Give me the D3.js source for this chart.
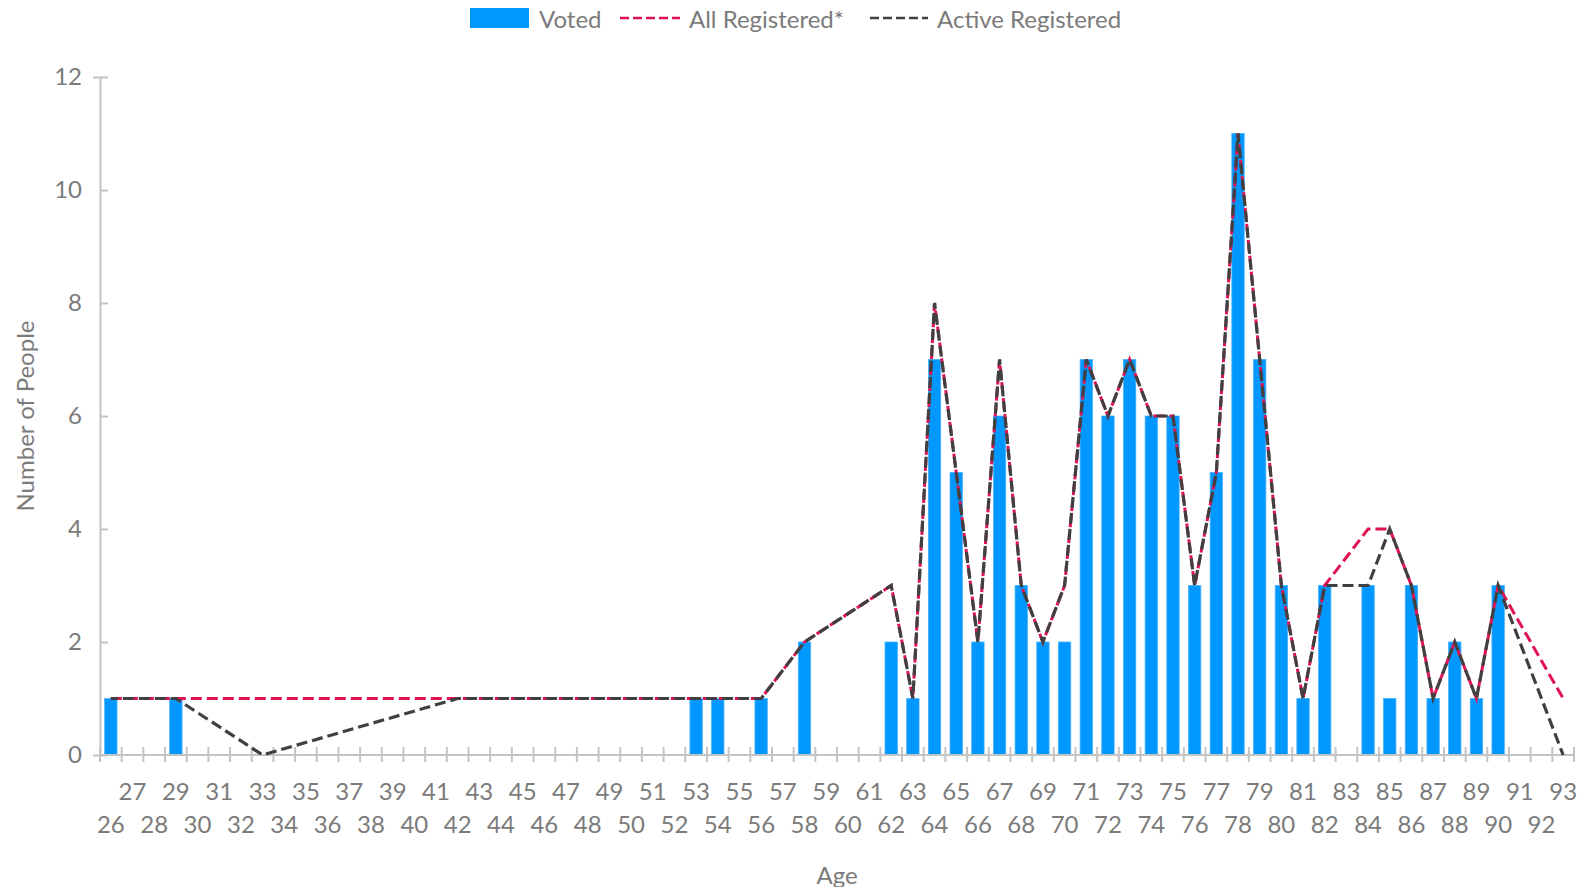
<!DOCTYPE html>
<html>
<head>
<meta charset="utf-8">
<script src="https://cdn.jsdelivr.net/npm/d3@7"></script>
<style>
  body { margin: 0; background: #fff; }
  text { font-family: Lato, "Open Sans", sans-serif; fill: #7b7b7b; }
</style>
</head>
<body>
<svg id="chart" width="1595" height="887"></svg>
<script>
// ages on the category axis
const ages = [26, 27, 28, 29, 30, 31, 32, 33, 34, 35, 36, 37, 38, 39, 40, 41, 42, 43, 44, 45,
  46, 47, 48, 49, 50, 51, 52, 53, 54, 55, 56, 57, 58, 59, 60, 61, 62, 63, 64, 65,
  66, 67, 68, 69, 70, 71, 72, 73, 74, 75, 76, 77, 78, 79, 80, 81, 82, 83, 84, 85,
  86, 87, 88, 89, 90, 91, 92, 93];

// voters per age (only ages that have a bar)
const votedAges   = [26, 29, 53, 54, 56, 58, 62, 63, 64, 65, 66, 67, 68, 69, 70, 71, 72, 73, 74, 75,
  76, 77, 78, 79, 80, 81, 82, 84, 85, 86, 87, 88, 89, 90];
const votedValues = [1, 1, 1, 1, 1, 2, 2, 1, 7, 5, 2, 6, 3, 2, 2, 7, 6, 7, 6, 6,
  3, 5, 11, 7, 3, 1, 3, 3, 1, 3, 1, 2, 1, 3];

// all registered (points are joined across empty ages)
const allRegAges   = [26, 29, 33, 42, 53, 54, 56, 58, 62, 63, 64, 65, 66, 67, 68, 69, 70, 71, 72, 73,
  74, 75, 76, 77, 78, 79, 80, 81, 82, 84, 85, 86, 87, 88, 89, 90, 93];
const allRegValues = [1, 1, 1, 1, 1, 1, 1, 2, 3, 1, 8, 5, 2, 7, 3, 2, 3, 7, 6, 7,
  6, 6, 3, 5, 11, 7, 3, 1, 3, 4, 4, 3, 1, 2, 1, 3, 1];

// active registered
const activeAges   = [26, 29, 33, 42, 53, 54, 56, 58, 62, 63, 64, 65, 66, 67, 68, 69, 70, 71, 72, 73,
  74, 75, 76, 77, 78, 79, 80, 81, 82, 83, 84, 85, 86, 87, 88, 89, 90, 93];
const activeValues = [1, 1, 0, 1, 1, 1, 1, 2, 3, 1, 8, 5, 2, 7, 3, 2, 3, 7, 6, 7,
  6, 6, 3, 5, 11, 7, 3, 1, 3, 3, 3, 4, 3, 1, 2, 1, 3, 0];

const yTicks = [0, 2, 4, 6, 8, 10, 12];

const margin = { top: 77, right: 21, bottom: 132, left: 100 };
const width = 1595, height = 887;
const fontSize = '24px';

const svg = d3.select('#chart');

const x = d3.scaleBand()
  .domain(ages)
  .range([margin.left, width - margin.right])
  .padding(0);

const y = d3.scaleLinear()
  .domain([0, 12])
  .range([height - margin.bottom, margin.top]);

const cx = (a) => x(a) + x.bandwidth() / 2;
const axisColor = '#c4c4c4';

// y axis
const yAxis = svg.append('g')
  .attr('transform', `translate(${margin.left},0)`)
  .call(d3.axisLeft(y).tickValues(yTicks).tickSize(7).tickPadding(11));
yAxis.select('.domain').attr('stroke', axisColor).attr('stroke-width', 2);
yAxis.selectAll('.tick line').attr('stroke', axisColor).attr('stroke-width', 2).attr('x2', 8);
yAxis.selectAll('.tick text')
  .style('font-size', fontSize)
  .style('font-family', 'Lato, "Open Sans", sans-serif')
  .attr('fill', '#7b7b7b');

// bars
const barW = x.bandwidth() * 0.57;
svg.append('g').selectAll('rect')
  .data(votedAges.map((a, i) => ({ age: a, v: votedValues[i] })))
  .enter().append('rect')
  .attr('x', d => cx(d.age) - barW / 2)
  .attr('y', d => y(d.v))
  .attr('width', barW)
  .attr('height', d => y(0) - y(d.v))
  .attr('fill', '#0097ff')
  .attr('stroke', '#45b2ff')
  .attr('stroke-width', 0.8);

// x axis
const base = y(0);
const xAxis = svg.append('g')
  .attr('transform', `translate(0,${base})`)
  .call(d3.axisBottom(x).tickSize(0).tickPadding(0));
xAxis.select('.domain').remove();
xAxis.append('line')
  .attr('x1', margin.left).attr('x2', width - margin.right)
  .attr('stroke', axisColor).attr('stroke-width', 2);
// boundary ticks between categories
xAxis.selectAll('.bound')
  .data(ages.concat(['end']))
  .enter().append('line')
  .attr('class', 'bound')
  .attr('x1', d => d === 'end' ? x.range()[1] : x(d))
  .attr('x2', d => d === 'end' ? x.range()[1] : x(d))
  .attr('y1', -8).attr('y2', 7)
  .attr('stroke', axisColor).attr('stroke-width', 2);
xAxis.selectAll('.tick text')
  .style('font-size', fontSize)
  .style('font-family', 'Lato, "Open Sans", sans-serif')
  .attr('fill', '#7b7b7b')
  .attr('dy', null)
  .attr('dominant-baseline', 'central')
  .attr('y', (d, i) => i % 2 === 0 ? 68 : 35);

// lines, joined over empty ages
const line = d3.line()
  .x(d => cx(d.age))
  .y(d => y(d.v));

svg.append('path')
  .datum(allRegAges.map((a, i) => ({ age: a, v: allRegValues[i] })))
  .attr('d', line)
  .attr('fill', 'none')
  .attr('stroke', '#e0124f')
  .attr('stroke-width', 3)
  .attr('stroke-dasharray', '11,5');

svg.append('path')
  .datum(activeAges.map((a, i) => ({ age: a, v: activeValues[i] })))
  .attr('d', line)
  .attr('fill', 'none')
  .attr('stroke', '#404040')
  .attr('stroke-width', 3.2)
  .attr('stroke-dasharray', '11,5')
  .attr('stroke-dashoffset', 4);

// axis titles
svg.append('text')
  .attr('x', 837).attr('y', 874)
  .attr('text-anchor', 'middle')
  .attr('dominant-baseline', 'central')
  .style('font-size', fontSize)
  .text('Age');

svg.append('text')
  .attr('transform', `translate(24,${(y(0) + y(12)) / 2}) rotate(-90)`)
  .attr('text-anchor', 'middle')
  .attr('dominant-baseline', 'central')
  .style('font-size', fontSize)
  .text('Number of People');

// legend
const legend = svg.append('g');
legend.append('rect')
  .attr('x', 470).attr('y', 8).attr('width', 59).attr('height', 20)
  .attr('fill', '#0097ff');
legend.append('text').attr('x', 539).attr('y', 18)
  .attr('dominant-baseline', 'central').style('font-size', fontSize).text('Voted');
legend.append('line')
  .attr('x1', 620).attr('x2', 680).attr('y1', 18).attr('y2', 18)
  .attr('stroke', '#e0124f').attr('stroke-width', 2.5).attr('stroke-dasharray', '9,4');
legend.append('text').attr('x', 689).attr('y', 18)
  .attr('dominant-baseline', 'central').style('font-size', fontSize).text('All Registered*');
legend.append('line')
  .attr('x1', 870).attr('x2', 928).attr('y1', 18).attr('y2', 18)
  .attr('stroke', '#404040').attr('stroke-width', 2.5).attr('stroke-dasharray', '9,4');
legend.append('text').attr('x', 937).attr('y', 18)
  .attr('dominant-baseline', 'central').style('font-size', fontSize).text('Active Registered');
</script>
</body>
</html>
